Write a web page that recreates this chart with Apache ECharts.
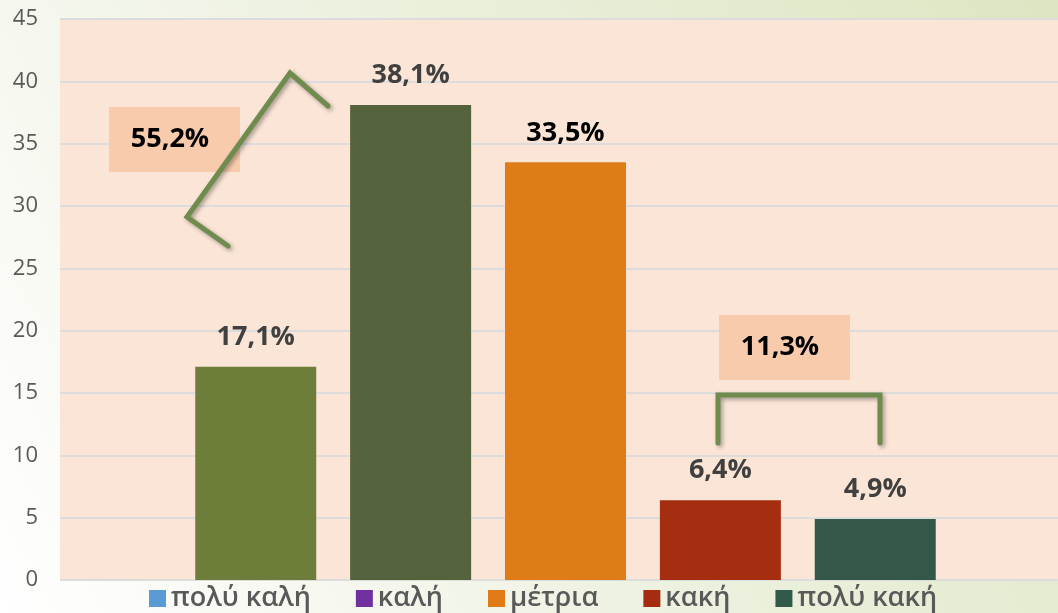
<!DOCTYPE html>
<html>
<head>
<meta charset="utf-8">
<script src="https://cdn.jsdelivr.net/npm/echarts@6/dist/echarts.min.js"></script>
<style>
  html, body { margin: 0; padding: 0; }
  #chart { width: 1058px; height: 613px; }
</style>
</head>
<body>
<div id="chart"></div>
<script>
'use strict';

// δεδομένα
const categories = ['πολύ καλή', 'καλή', 'μέτρια', 'κακή', 'πολύ κακή'];
const values = [17.1, 38.1, 33.5, 6.4, 4.9];
const barColors = ['#6D7D3A', '#55633C', '#DE7C17', '#A52D10', '#33584A'];
const legendColors = ['#5B9BD5', '#7030A0', '#E07B17', '#A52C10', '#325A4B'];
const labelColors = ['#404040', '#404040', '#000000', '#404040', '#404040'];
const yTicks = { min: 0, max: 45, interval: 5 };
const groupLabels = ['55,2%', '11,3%'];

const FONT = '"Open Sans", "Noto Sans", sans-serif';
const chart = echarts.init(document.getElementById('chart'), null, { renderer: 'canvas' });

const series = categories.map((name, i) => ({
  name: name,
  type: 'bar',
  data: [values[i]],
  barWidth: 121,
  barGap: '28%',
  itemStyle: { color: barColors[i] },
  label: {
    show: true,
    position: 'top',
    distance: 16,
    fontFamily: FONT,
    fontSize: 27,
    fontWeight: 'bold',
    color: labelColors[i],
    formatter: p => String(p.value).replace('.', ',') + '%'
  }
}));

const greenLine = {
  stroke: '#6F8B4E',
  lineWidth: 5,
  lineCap: 'round',
  lineJoin: 'miter',
  fill: null,
  shadowBlur: 4,
  shadowColor: 'rgba(0,0,0,0.35)',
  shadowOffsetX: 2,
  shadowOffsetY: 2
};

const option = {
  backgroundColor: {
    type: 'linear', x: 0, y: 1, x2: 1, y2: 0,
    colorStops: [
      { offset: 0, color: '#FFFFFF' },
      { offset: 0.45, color: '#EEF2E2' },
      { offset: 1, color: '#DCE6C2' }
    ]
  },
  grid: {
    left: 60, right: -13, top: 19, bottom: 33,
    outerBoundsMode: 'none',
    show: true, backgroundColor: '#FBE5D6', borderWidth: 0
  },
  legend: {
    bottom: -4,
    left: 144,
    itemWidth: 17,
    itemHeight: 17,
    itemGap: 45,
    icon: 'rect',
    textStyle: { fontFamily: FONT, fontSize: 27, fontWeight: 600, color: '#595959' },
    data: categories.map((name, i) => ({ name: name, itemStyle: { color: legendColors[i] } }))
  },
  xAxis: {
    type: 'category',
    data: [''],
    axisLine: { show: false },
    axisTick: { show: false },
    axisLabel: { show: false }
  },
  yAxis: {
    type: 'value',
    min: yTicks.min,
    max: yTicks.max,
    interval: yTicks.interval,
    axisLine: { show: false },
    axisTick: { show: false },
    axisLabel: { fontFamily: FONT, fontSize: 22, color: '#595959', margin: 22 },
    splitLine: { lineStyle: { color: '#DCDCDC', width: 2 } }
  },
  graphic: [
    { type: 'rect', z: 50, shape: { x: 109, y: 107, width: 131, height: 65 }, style: { fill: '#F8CBAD' } },
    { type: 'text', z: 52, x: 170, y: 139, style: {
        text: groupLabels[0], fontFamily: FONT, fontSize: 27, fontWeight: 'bold', fill: '#000',
        align: 'center', verticalAlign: 'middle' } },
    { type: 'polyline', z: 55, shape: { points: [[228, 246], [187, 217], [290, 73], [328, 106]] }, style: greenLine },
    { type: 'rect', z: 50, shape: { x: 719, y: 315, width: 131, height: 65 }, style: { fill: '#F8CBAD' } },
    { type: 'text', z: 52, x: 780, y: 347, style: {
        text: groupLabels[1], fontFamily: FONT, fontSize: 27, fontWeight: 'bold', fill: '#000',
        align: 'center', verticalAlign: 'middle' } },
    { type: 'polyline', z: 55, shape: { points: [[718, 443], [718, 395], [880, 395], [880, 443]] }, style: greenLine }
  ],
  series: series
};

chart.setOption(option);
</script>
</body>
</html>
